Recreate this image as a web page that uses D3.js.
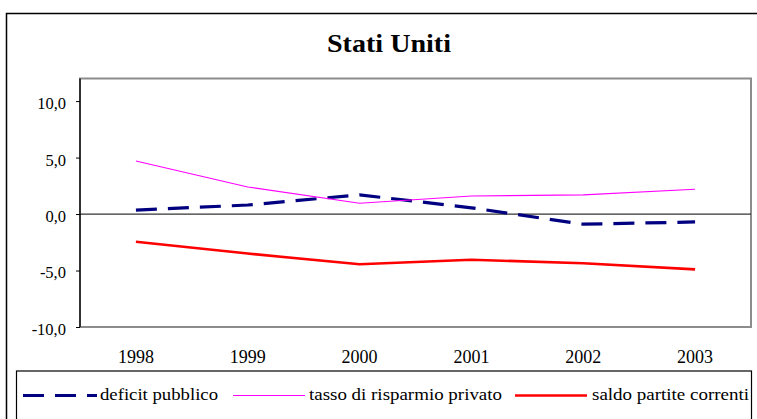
<!DOCTYPE html>
<html>
<head>
<meta charset="utf-8">
<script src="https://cdn.jsdelivr.net/npm/d3@7"></script>
<style>
  body { margin: 0; background: #fff; }
</style>
</head>
<body>
<div id="chart"></div>
<script>
// Data
const years = ["1998", "1999", "2000", "2001", "2002", "2003"];
const deficitPubblico = [0.35, 0.8, 1.7, 0.55, -0.9, -0.7];
const tassoRisparmio = [4.7, 2.4, 0.95, 1.6, 1.7, 2.2];
const saldoPartite = [-2.45, -3.5, -4.45, -4.05, -4.35, -4.9];
const yTicks = [-10, -5, 0, 5, 10];

const seriesNames = ["deficit pubblico", "tasso di risparmio privato", "saldo partite correnti"];

const serifFont = "'Liberation Serif'";
const svgWidth = 757;
const svgHeight = 419;
const plot = { left: 80, right: 751, top: 78.5, bottom: 327 };

const svg = d3.select("#chart")
    .append("svg")
    .attr("width", svgWidth)
    .attr("height", svgHeight)
    .attr("font-family", "Liberation Serif");

// Outer frame
svg.append("rect")
    .attr("x", 6.5).attr("y", 13.5)
    .attr("width", 800).attr("height", 500)
    .attr("fill", "none")
    .attr("stroke", "#000")
    .attr("stroke-width", 1.5);

// Title
svg.append("text")
    .attr("x", 389)
    .attr("y", 52)
    .attr("text-anchor", "middle")
    .style("font-family", serifFont)
    .style("font-size", "25px")
    .style("font-weight", "bold")
    .attr("textLength", 124)
    .attr("lengthAdjust", "spacingAndGlyphs")
    .text("Stati Uniti");

// Scales
const xScale = d3.scaleBand()
    .domain(years)
    .range([plot.left, plot.right]);

const yScale = d3.scaleLinear()
    .domain([-10, 12])
    .range([plot.bottom, plot.top]);

const xc = d => xScale(d) + xScale.bandwidth() / 2;

// Plot area border (gray)
svg.append("rect")
    .attr("x", plot.left)
    .attr("y", plot.top)
    .attr("width", plot.right - plot.left)
    .attr("height", plot.bottom - plot.top)
    .attr("fill", "none")
    .attr("stroke", "#8c8c8c")
    .attr("stroke-width", 2);

// Zero line
svg.append("line")
    .attr("x1", plot.left).attr("x2", plot.right)
    .attr("y1", yScale(0)).attr("y2", yScale(0))
    .attr("stroke", "#333")
    .attr("stroke-width", 1.2);

// Y axis
const yAxis = svg.append("g")
    .attr("transform", `translate(${plot.left},0)`)
    .call(d3.axisLeft(yScale)
        .tickValues(yTicks)
        .tickSize(4)
        .tickPadding(10)
        .tickFormat(d => d3.format(".1f")(d).replace(".", ",").replace("−", "-")))
    .attr("font-family", "Liberation Serif")
    .attr("font-size", 16.5);
yAxis.select(".domain")
    .attr("d", `M0,${plot.top}V${plot.bottom}`)
    .attr("stroke", "#000")
    .attr("stroke-width", 1.3);
yAxis.selectAll(".tick line").attr("stroke", "#000");
yAxis.selectAll(".tick text")
    .style("font-family", serifFont)
    .attr("dy", "0.45em")
    .attr("fill", "#000");

// X labels
const xAxis = svg.append("g")
    .attr("transform", `translate(0,${plot.bottom})`)
    .call(d3.axisBottom(xScale).tickSize(0).tickPadding(23))
    .attr("font-family", "Liberation Serif")
    .attr("font-size", 18);
xAxis.select(".domain").remove();
xAxis.selectAll(".tick text")
    .style("font-family", serifFont)
    .attr("fill", "#000");

// Lines
const line = d3.line()
    .x((d, i) => xc(years[i]))
    .y(d => yScale(d));

const styles = [
    { data: deficitPubblico, color: "#000080", width: 3.2, dash: "21,11" },
    { data: tassoRisparmio, color: "#ff00ff", width: 1.1, dash: null },
    { data: saldoPartite, color: "#ff0000", width: 2.6, dash: null }
];

styles.forEach(s => {
    svg.append("path")
        .datum(s.data)
        .attr("d", line)
        .attr("fill", "none")
        .attr("stroke", s.color)
        .attr("stroke-width", s.width)
        .attr("stroke-dasharray", s.dash);
});

// Legend
svg.append("rect")
    .attr("x", 16.5).attr("y", 371)
    .attr("width", 735).attr("height", 80)
    .attr("fill", "#fff")
    .attr("stroke", "#000")
    .attr("stroke-width", 1.2);

const legendItems = [
    { x1: 23, x2: 97, tx: 100, tw: 118 },
    { x1: 233, x2: 305, tx: 309, tw: 193 },
    { x1: 515, x2: 587, tx: 592, tw: 157 }
];

legendItems.forEach((item, i) => {
    svg.append("line")
        .attr("x1", item.x1).attr("x2", item.x2)
        .attr("y1", 395.5).attr("y2", 395.5)
        .attr("stroke", styles[i].color)
        .attr("stroke-width", styles[i].width)
        .attr("stroke-dasharray", styles[i].dash);
    svg.append("text")
        .attr("x", item.tx)
        .attr("y", 400)
        .style("font-family", serifFont)
        .style("font-size", "16px")
        .attr("textLength", item.tw)
        .attr("lengthAdjust", "spacingAndGlyphs")
        .text(seriesNames[i]);
});
</script>
</body>
</html>
